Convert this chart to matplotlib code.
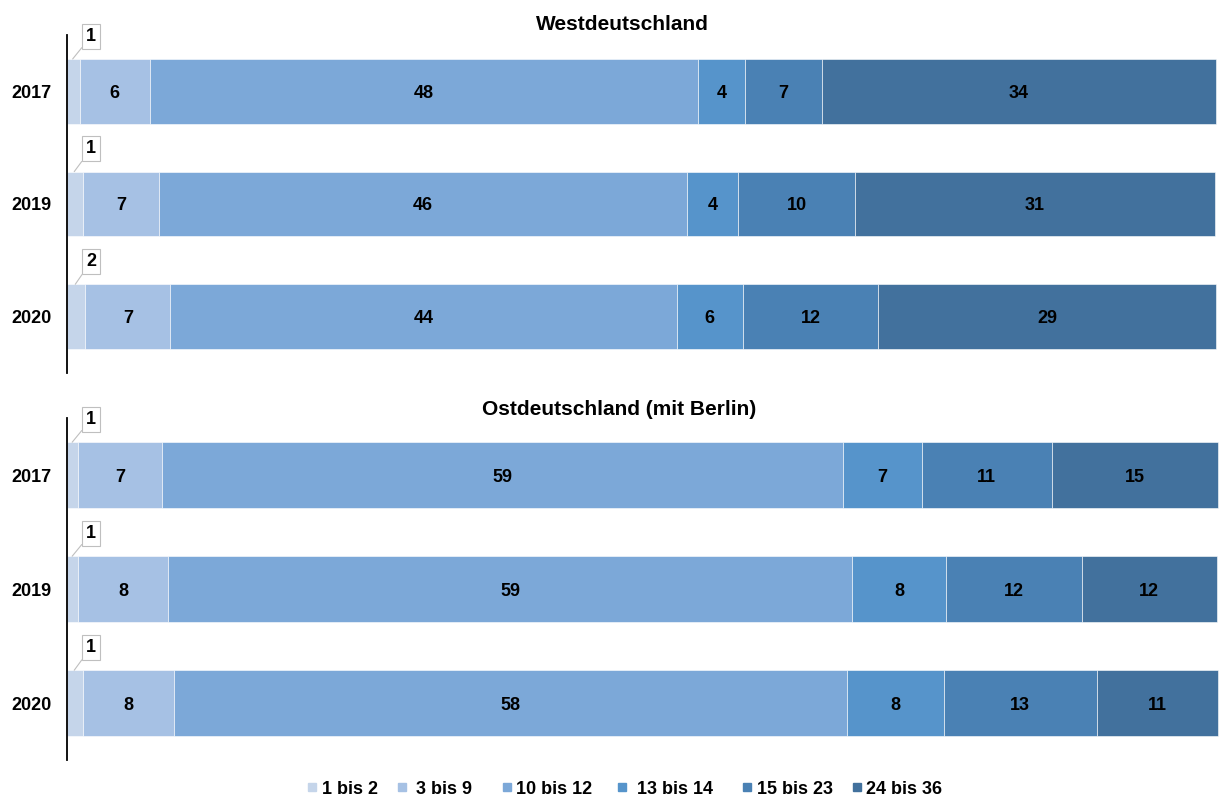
import matplotlib
matplotlib.use("Agg")
import matplotlib.pyplot as plt
from matplotlib.patches import Rectangle

plt.rcParams['font.family'] = ['Liberation Sans', 'DejaVu Sans']

years = ["2017", "2019", "2020"]
categories = ["1 bis 2", "3 bis 9", "10 bis 12", "13 bis 14", "15 bis 23", "24 bis 36"]
colors = ["#c5d5ea", "#a6c1e4", "#7ca8d8", "#5694cb", "#4a81b4", "#42719d"]

# estimated segment shares (%) per year, per category
west_shares = [
    [1.1, 6.1, 47.7, 4.1, 6.7, 34.3],
    [1.4, 6.6, 46.0, 4.4, 10.2, 31.3],
    [1.6, 7.4, 44.1, 5.7, 11.8, 29.4],
]
west_labels = [
    [1, 6, 48, 4, 7, 34],
    [1, 7, 46, 4, 10, 31],
    [2, 7, 44, 6, 12, 29],
]
east_shares = [
    [1.0, 7.3, 59.2, 6.9, 11.3, 14.5],
    [1.0, 7.8, 59.5, 8.2, 11.8, 11.8],
    [1.4, 7.9, 58.6, 8.4, 13.3, 10.6],
]
east_labels = [
    [1, 7, 59, 7, 11, 15],
    [1, 8, 59, 8, 12, 12],
    [1, 8, 58, 8, 13, 11],
]

W, H = 1219, 796
fig = plt.figure(figsize=(W / 100, H / 100), dpi=100)

def fx(px):
    return px / W

def fy(py):
    return 1 - py / H

LBL = 13

def draw_panel(top, bottom, shares, labels, title, title_x, title_y):
    ax = fig.add_axes([fx(67), fy(bottom), fx(1216) - fx(67), fy(top) - fy(bottom)])
    ax.set_xlim(0, 100)
    ax.set_ylim(2.5, -0.5)
    for i, (row, lab) in enumerate(zip(shares, labels)):
        left = 0
        for j, (v, l) in enumerate(zip(row, lab)):
            ax.barh(i, v, left=left, height=0.575, color=colors[j],
                    edgecolor="white", linewidth=0.4, clip_on=False)
            if j == 0:
                ax.annotate(str(l), xy=(left + v * 0.45, i - 0.2875),
                            xytext=(left + 2.1, i - 0.49),
                            ha="center", va="center", fontsize=LBL, fontweight="bold",
                            bbox=dict(boxstyle="square,pad=0.22", fc="white", ec="#bfbfbf", lw=0.8),
                            arrowprops=dict(arrowstyle="-", color="#bfbfbf", lw=0.8,
                                            shrinkA=0, shrinkB=0),
                            annotation_clip=False)
            else:
                ax.text(left + v / 2, i, str(l), ha="center", va="center_baseline",
                        fontsize=LBL, fontweight="bold", color="black")
            left += v
    ax.set_yticks(range(len(years)))
    ax.set_yticklabels(years, fontsize=LBL, fontweight="bold")
    ax.tick_params(axis="y", length=0, pad=11)
    ax.set_xticks([])
    for s in ["top", "right", "bottom"]:
        ax.spines[s].set_visible(False)
    ax.spines["left"].set_linewidth(1.3)
    fig.text(fx(title_x), fy(title_y), title, ha="center", va="center",
             fontsize=15, fontweight="bold")
    return ax

draw_panel(35, 373, west_shares, west_labels, "Westdeutschland", 622, 25)
draw_panel(418, 760, east_shares, east_labels, "Ostdeutschland (mit Berlin)", 619, 410)

# legend
sq_x = [308, 398, 503, 618, 743, 853]
tx_x = [322, 416, 516, 637, 757, 866]
ly = 787
for c, name, sx, tx in zip(colors, categories, sq_x, tx_x):
    fig.patches.append(Rectangle((fx(sx), fy(ly + 4)), fx(8), 8 / H,
                                 transform=fig.transFigure, color=c))
    fig.text(fx(tx), fy(ly), name, ha="left", va="center_baseline",
             fontsize=13, fontweight="bold")

fig.savefig("out.png", dpi=100)
